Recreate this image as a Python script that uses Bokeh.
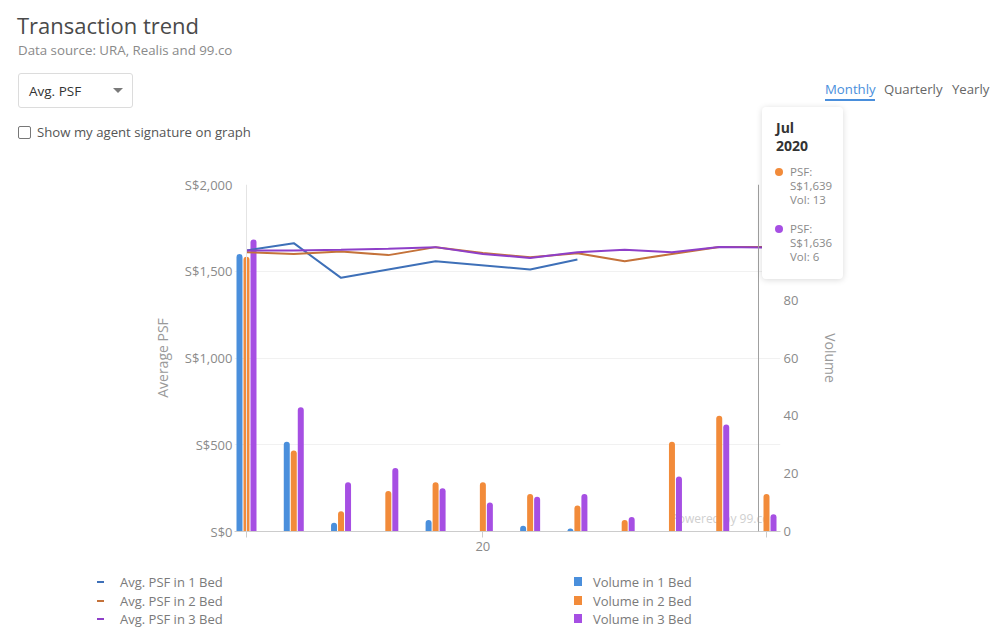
from bokeh.plotting import figure
from bokeh.models import (Range1d, LinearAxis, FixedTicker, Span, Label,
                          ColumnDataSource, Div)
from bokeh.embed import file_html
from bokeh.resources import INLINE

# ---------------- data ----------------
months = ["Aug 2019", "Sep 2019", "Oct 2019", "Nov 2019", "Dec 2019", "Jan 2020",
          "Feb 2020", "Mar 2020", "Apr 2020", "May 2020", "Jun 2020", "Jul 2020"]
psf_1bed = [1620, 1662, 1462, None, 1558, None, 1510, 1568, None, None, None, None]
psf_2bed = [1610, 1600, 1614, 1593, 1639, 1605, 1580, 1604, 1558, 1600, 1640, 1639]
psf_3bed = [1620, 1620, 1624, 1629, 1639, 1600, 1577, 1610, 1624, 1610, 1640, 1636]
vol_1bed = [96, 31, 3, 0, 4, 0, 2, 1, 0, 0, 0, 0]
vol_2bed = [95, 28, 7, 14, 17, 17, 13, 9, 4, 31, 40, 13]
vol_3bed = [101, 43, 17, 22, 15, 10, 12, 13, 5, 19, 37, 6]
bed_names = ["1 Bed", "2 Bed", "3 Bed"]
psf_ticks = [0, 500, 1000, 1500, 2000]
psf_tick_labels = ["S$0", "S$500", "S$1,000", "S$1,500", "S$2,000"]
vol_ticks = [0, 20, 40, 60, 80]
x_ticks = [0, 5, 11]
x_tick_labels = ["", "20", ""]
tabs = ["Monthly", "Quarterly", "Yearly"]

# ---------------- styles ----------------
FONT = "Open Sans"
bar_colors = ["#4a8fdc", "#f28b3a", "#a64fe3"]
line_colors = ["#3e70b8", "#c4723a", "#8e3fc8"]

W, H = 998, 637
FL, FR, FT, FB = 234, 780, 184, 531   # frame edges in page pixels
unit = (766 - 246) / 11.0
x0 = -(246 - FL) / unit
x1 = 11 + (FR - 766) / unit

p = figure(width=W, height=H, output_backend="svg", toolbar_location=None,
           x_range=Range1d(x0, x1), y_range=Range1d(0, 2000),
           min_border_left=FL, min_border_right=W - FR,
           min_border_top=FT, min_border_bottom=H - FB)
p.extra_y_ranges = {"vol": Range1d(0, 120)}
p.outline_line_color = None
p.background_fill_color = "white"
p.border_fill_color = "white"
p.xgrid.grid_line_color = None
p.ygrid.grid_line_color = "#f1f1f1"
p.ygrid.ticker = FixedTicker(ticks=psf_ticks)

# left axis
ya = p.yaxis[0]
ya.ticker = FixedTicker(ticks=psf_ticks)
ya.major_label_overrides = {t: l for t, l in zip(psf_ticks, psf_tick_labels)}
ya.axis_line_color = None
ya.major_tick_line_color = None
ya.major_tick_out = 0
ya.major_tick_in = 0
ya.minor_tick_line_color = None
ya.major_label_standoff = 2
ya.major_label_text_font = FONT
ya.major_label_text_font_size = "13px"
ya.major_label_text_color = "#8a8a8a"
ya.axis_label = "Average PSF"
ya.axis_label_text_font = FONT
ya.axis_label_text_font_size = "14px"
ya.axis_label_text_font_style = "normal"
ya.axis_label_text_color = "#9a9a9a"
ya.axis_label_standoff = 10

# x axis
xa = p.xaxis[0]
xa.ticker = FixedTicker(ticks=x_ticks)
xa.major_label_overrides = {t: l for t, l in zip(x_ticks, x_tick_labels)}
xa.axis_line_color = "#cccccc"
xa.major_tick_line_color = "#cccccc"
xa.major_tick_out = 6
xa.major_tick_in = 0
xa.minor_tick_line_color = None
xa.major_label_text_font = FONT
xa.major_label_text_font_size = "13px"
xa.major_label_text_color = "#8a8a8a"
xa.major_label_standoff = 4

# right axis
ra = LinearAxis(y_range_name="vol", ticker=FixedTicker(ticks=vol_ticks))
ra.axis_line_color = None
ra.major_tick_line_color = None
ra.major_tick_out = 0
ra.major_tick_in = 0
ra.minor_tick_line_color = None
ra.major_label_standoff = 3
ra.major_label_text_font = FONT
ra.major_label_text_font_size = "13px"
ra.major_label_text_color = "#8a8a8a"
ra.axis_label = "Volume"
ra.axis_label_text_font = FONT
ra.axis_label_text_font_size = "14px"
ra.axis_label_text_font_style = "normal"
ra.axis_label_text_color = "#9a9a9a"
ra.axis_label_standoff = 20
p.add_layout(ra, "right")

# vertical axis line at first category
p.add_layout(Span(location=0, dimension="height", line_color="#e4e4e4", line_width=1))

# watermark under the bars
p.add_layout(Label(x=670 - FL, y=FB - 518, x_units="screen", y_units="screen",
                   text="Powered by 99.co", text_font=FONT, text_font_size="12px",
                   text_color="#cfcfcf", text_baseline="middle", level="underlay"))

# bars
xs = list(range(len(months)))
bw = 6 / unit
off = 7 / unit
vols = [vol_1bed, vol_2bed, vol_3bed]
for i, (v, c) in enumerate(zip(vols, bar_colors)):
    src = ColumnDataSource(dict(x=[xx + (i - 1) * off for xx in xs], top=v))
    p.vbar(x="x", top="top", width=bw, bottom=0, source=src, y_range_name="vol",
           fill_color=c, line_color=None, border_radius=(3, 3, 0, 0))

# lines
psfs = [psf_1bed, psf_2bed, psf_3bed]
for v, c in zip(psfs, line_colors):
    px_ = [xx for xx, val in zip(xs, v) if val is not None]
    py_ = [val for val in v if val is not None]
    p.line(px_, py_, line_color=c, line_width=2)

# hover crosshair
p.add_layout(Span(location=758 - FL, location_units="screen", dimension="height",
                  line_color="#a0a0a0", line_width=1))


# ---------------- header, legend and tooltip (HTML overlays) ----------------
def txt(s, left, cy, size, color, lh=20, bold=False):
    return (f'<div style="position:absolute;left:{left}px;top:{cy - lh / 2}px;'
            f'line-height:{lh}px;font-size:{size}px;color:{color};white-space:nowrap;'
            f'font-weight:{"700" if bold else "400"}">{s}</div>')


def rect(left, top, w, h, bg, extra=""):
    return (f'<div style="position:absolute;left:{left}px;top:{top}px;width:{w}px;'
            f'height:{h}px;background:{bg};{extra}"></div>')


def overlay(html, left, top, w, h, z, extra=""):
    inner = (f'<div style="position:relative;width:{w}px;height:{h}px;'
             f'font-family:\'{FONT}\';{extra}">' + html + '</div>')
    return Div(text=inner, width=w, height=h, margin=0,
               styles={"position": "absolute", "left": f"{left}px", "top": f"{top}px",
                       "z-index": str(z)})


hdr = []
hdr.append(txt("Transaction trend", 17, 25, 22, "#4a4a4a", lh=28))
hdr.append(txt("Data source: URA, Realis and 99.co", 18, 50, 13.3, "#8a8a8a"))
hdr.append(rect(18, 73, 115, 35, "#ffffff",
                "box-sizing:border-box;border:1px solid #dcdcdc;border-radius:3px"))
hdr.append(txt("Avg. PSF", 29, 91, 13.5, "#333333"))
hdr.append('<div style="position:absolute;left:113px;top:88px;width:0;height:0;'
           'border-left:5px solid transparent;border-right:5px solid transparent;'
           'border-top:5px solid #7a7a7a"></div>')
hdr.append(rect(18, 126, 13, 13, "#ffffff",
                "box-sizing:border-box;border:1px solid #777;border-radius:2px"))
hdr.append(txt("Show my agent signature on graph", 37, 132, 13.2, "#555555"))
tab_x = [825, 884, 952]
for t, tx in zip(tabs, tab_x):
    hdr.append(txt(t, tx, 89, 13.2, "#4a8fdc" if t == "Monthly" else "#666666"))
hdr.append(rect(825, 99, 50, 2, "#4a8fdc"))
header = overlay("".join(hdr), 0, 0, W, 160, 5)

# legend (positions relative to the legend box, which starts at page y = LEG_TOP)
LEG_TOP = 566
leg = []
row_y = [582 - LEG_TOP, 601 - LEG_TOP, 619 - LEG_TOP]
for b, c, ly in zip(bed_names, line_colors, row_y):
    leg.append(rect(97, ly - 1, 7, 2, c))
    leg.append(txt(f"Avg. PSF in {b}", 120, ly, 13, "#7a7a7a"))
for b, c, ly in zip(bed_names, bar_colors, row_y):
    leg.append(rect(574, ly - 5, 8, 9, c))
    leg.append(txt(f"Volume in {b}", 593, ly, 13, "#7a7a7a"))
legend = overlay("".join(leg), 0, LEG_TOP, W, 68, 5)

# tooltip for the last month
last = len(months) - 1
mon, yr = months[last].split(" ")
tip = []
tip.append(txt(mon, 14, 21, 14, "#333333", lh=18, bold=True))
tip.append(txt(yr, 14, 39, 14, "#333333", lh=18, bold=True))
tip_rows = [(psf_2bed[last], vol_2bed[last], bar_colors[1], 65),
            (psf_3bed[last], vol_3bed[last], bar_colors[2], 122)]
for psf, vol, col, ty in tip_rows:
    tip.append(rect(13, ty - 4, 8, 8, col, "border-radius:50%"))
    tip.append(txt("PSF:", 28, ty, 11.5, "#8a8a8a", lh=14))
    tip.append(txt(f"S${psf:,}", 28, ty + 14, 11.5, "#8a8a8a", lh=14))
    tip.append(txt(f"Vol: {vol}", 28, ty + 28, 11.5, "#8a8a8a", lh=14))
tooltip = overlay("".join(tip), 762, 107, 81, 172, 6,
                  "background:#ffffff;border-radius:4px;box-shadow:0 1px 6px rgba(0,0,0,0.15)")

open("out.html", "w").write(file_html([p, header, legend, tooltip], INLINE))
